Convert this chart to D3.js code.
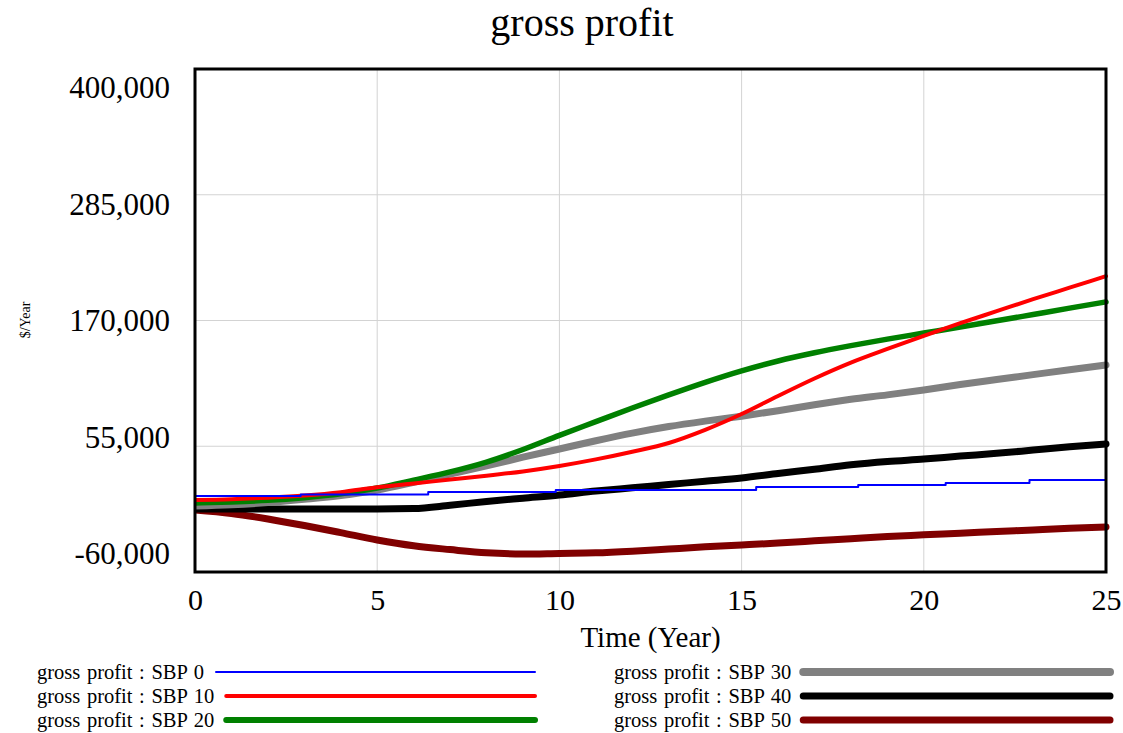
<!DOCTYPE html>
<html>
<head>
<meta charset="utf-8">
<script src="https://cdn.jsdelivr.net/npm/d3@7"></script>
<style>
  body { margin: 0; background: #fff; }
  text { font-family: "Liberation Serif", "Times New Roman", serif; fill: #000; }
</style>
</head>
<body>
<div id="chart"></div>
<script>
// Chart values
var years = d3.range(0, 26);
var yTicks = [-60000, 55000, 170000, 285000, 400000];
var xTicks = [0, 5, 10, 15, 20, 25];

// SBP 0 changes in small steps, so it keeps its own time points
var sbp0Times = [0, 2.9, 6.4, 9.9, 15.4, 18.2, 20.6, 22.9, 25];
var sbp0Values = [9500, 10900, 13200, 15000, 17700, 19600, 21400, 24200, 24200];

var sbp10Values = [5800, 6500, 8000, 10000, 13000, 17500, 21000, 24500, 28000, 32000, 37000, 43000, 50000,
    58000, 70000, 84500, 101000, 117000, 131500, 144000, 156000, 167500, 178500, 189500, 200000, 210500];
var sbp20Values = [3100, 4000, 5500, 8000, 11500, 16800, 24000, 31500, 40500, 52000, 65000, 77500, 90000,
    102000, 113500, 124000, 133000, 140500, 147000, 153000, 158500, 164000, 169700, 175500, 181300, 187000];
var sbp30Values = [400, 1500, 3500, 6500, 10000, 15000, 22000, 29500, 37000, 45000, 52500, 60000, 67000,
    73000, 78000, 82500, 87500, 93000, 98000, 102000, 106500, 111500, 116000, 120500, 125000, 129300];
var sbp40Values = [-2400, -2400, -2400, -2400, -2400, -2400, -2000, 1000, 4500, 7500, 10400, 14000, 17000,
    20000, 23000, 26000, 30000, 34000, 38000, 41000, 43300, 46000, 48500, 51500, 54500, 57000];
var sbp50Values = [-3300, -6500, -11500, -17500, -24000, -30700, -36000, -39500, -42500, -43500, -43000, -42500, -41000,
    -39000, -37000, -35300, -33500, -31500, -29500, -27500, -26000, -24500, -23000, -21500, -20000, -18800];

var seriesNames = ["gross profit : SBP 0", "gross profit : SBP 10", "gross profit : SBP 20",
    "gross profit : SBP 30", "gross profit : SBP 40", "gross profit : SBP 50"];

// Styles
var colors = ["#0000ff", "#ff0000", "#008000", "#808080", "#000000", "#800000"];
var lineWidths = [2, 4, 5.5, 7, 7, 7];
var legendWidths = [2, 4, 6, 8, 7, 7];

var svgWidth = 1123;
var svgHeight = 733;
var margins = { top: 69, right: 17, bottom: 161, left: 195 };
var width = svgWidth - margins.left - margins.right;
var height = svgHeight - margins.top - margins.bottom;

var svg = d3.select("#chart")
    .append("svg")
    .attr("width", svgWidth)
    .attr("height", svgHeight);

var chartGroup = svg.append("g")
    .attr("transform", `translate(${margins.left}, ${margins.top})`);

var xScale = d3.scaleLinear().domain([0, 25]).range([0, width]);
var yScale = d3.scaleLinear().domain([-60000, 400000]).range([height, 0]);
// tick labels are spread a bit inside the frame, like the original program does
var yLabelScale = d3.scaleLinear().domain([400000, -60000]).range([18, height - 19]);

// Grid lines
chartGroup.append("g")
    .selectAll("line.vgrid")
    .data(xTicks.slice(1, -1))
    .enter()
    .append("line")
    .attr("x1", d => xScale(d))
    .attr("x2", d => xScale(d))
    .attr("y1", 0)
    .attr("y2", height)
    .attr("stroke", "#d3d3d3")
    .attr("stroke-width", 1);

chartGroup.append("g")
    .selectAll("line.hgrid")
    .data(yTicks.slice(1, -1))
    .enter()
    .append("line")
    .attr("x1", 0)
    .attr("x2", width)
    .attr("y1", d => yScale(d))
    .attr("y2", d => yScale(d))
    .attr("stroke", "#d3d3d3")
    .attr("stroke-width", 1);

// Axes
var commaFormat = d3.format(",");
var leftAxis = d3.axisLeft(yScale)
    .tickValues(yTicks)
    .tickSize(0)
    .tickPadding(25)
    .tickFormat(d => commaFormat(d).replace("\u2212", "-"));

var yAxis = chartGroup.append("g").call(leftAxis);
yAxis.select(".domain").remove();
yAxis.selectAll("text")
    .attr("font-size", 31)
    .attr("y", d => yLabelScale(d) - yScale(d))
    .attr("dy", "0.35em");

var bottomAxis = d3.axisBottom(xScale)
    .tickValues(xTicks)
    .tickSize(0)
    .tickFormat(d3.format("d"));

var xAxis = chartGroup.append("g")
    .attr("transform", `translate(0, ${height})`)
    .call(bottomAxis);
xAxis.select(".domain").remove();
xAxis.selectAll("text")
    .attr("font-size", 30)
    .attr("y", 38)
    .attr("dy", 0);

// Lines
var seriesData = [
    sbp0Times.map((t, i) => [t, sbp0Values[i]]),
    years.map((t, i) => [t, sbp10Values[i]]),
    years.map((t, i) => [t, sbp20Values[i]]),
    years.map((t, i) => [t, sbp30Values[i]]),
    years.map((t, i) => [t, sbp40Values[i]]),
    years.map((t, i) => [t, sbp50Values[i]])
];

var smoothLine = d3.line()
    .x(d => xScale(d[0]))
    .y(d => yScale(d[1]))
    .curve(d3.curveMonotoneX);

var stepLine = d3.line()
    .x(d => xScale(d[0]))
    .y(d => yScale(d[1]))
    .curve(d3.curveStepAfter);

svg.append("defs").append("clipPath")
    .attr("id", "plot-clip")
    .append("rect")
    .attr("x", 0)
    .attr("y", 0)
    .attr("width", width + 4)
    .attr("height", height);

var linesGroup = chartGroup.append("g").attr("clip-path", "url(#plot-clip)");

// draw SBP 50 first so the thin lines stay on top
for (var i = seriesData.length - 1; i >= 0; i--) {
    linesGroup.append("path")
        .datum(seriesData[i])
        .attr("fill", "none")
        .attr("stroke", colors[i])
        .attr("stroke-width", lineWidths[i])
        .attr("stroke-linecap", "round")
        .attr("stroke-linejoin", "round")
        .attr("d", i === 0 ? stepLine : smoothLine);
}

// Frame
chartGroup.append("rect")
    .attr("x", 0)
    .attr("y", 0)
    .attr("width", width)
    .attr("height", height)
    .attr("fill", "none")
    .attr("stroke", "#000")
    .attr("stroke-width", 3);

// Titles
svg.append("text")
    .attr("x", 582)
    .attr("y", 36)
    .attr("text-anchor", "middle")
    .attr("font-size", 40)
    .text("gross profit");

svg.append("text")
    .attr("x", margins.left + width / 2)
    .attr("y", 647)
    .attr("text-anchor", "middle")
    .attr("font-size", 29)
    .text("Time (Year)");

svg.append("text")
    .attr("transform", "translate(30, 320) rotate(-90)")
    .attr("text-anchor", "middle")
    .attr("font-size", 14)
    .text("$/Year");

// Legend
var legendCols = [{ x: 37, lineEnd: 535 }, { x: 614, lineEnd: 1110 }];
var legendRows = [672, 696, 720];

seriesNames.forEach(function(name, i) {
    var col = legendCols[Math.floor(i / 3)];
    var rowY = legendRows[i % 3];
    var label = svg.append("text")
        .attr("x", col.x)
        .attr("y", rowY)
        .attr("dy", "0.33em")
        .attr("font-size", 20.5)
        .attr("word-spacing", 1.5)
        .text(name);
    var textEnd = col.x + label.node().getComputedTextLength();
    svg.append("line")
        .attr("x1", textEnd + 12)
        .attr("x2", col.lineEnd)
        .attr("y1", rowY)
        .attr("y2", rowY)
        .attr("stroke", colors[i])
        .attr("stroke-width", legendWidths[i])
        .attr("stroke-linecap", "round");
});
</script>
</body>
</html>
